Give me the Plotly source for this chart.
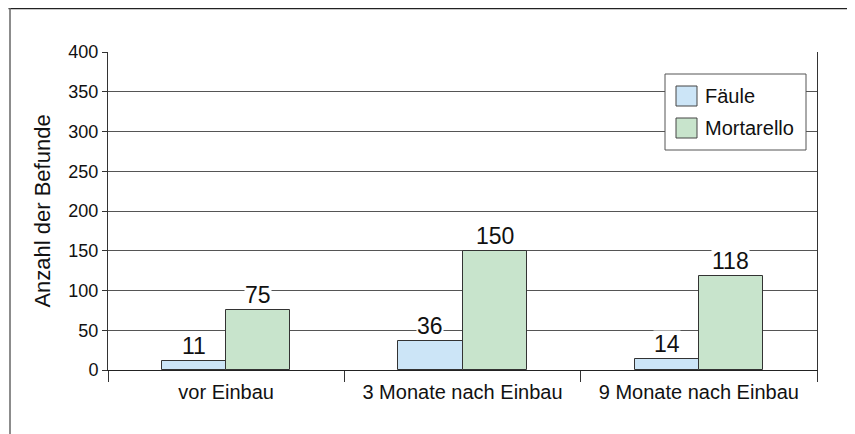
import plotly.graph_objects as go

categories = ["vor Einbau", "3 Monate nach Einbau", "9 Monate nach Einbau"]
faeule = [11, 36, 14]
mortarello = [75, 150, 118]
series_names = ["Fäule", "Mortarello"]
y_ticks = [0, 50, 100, 150, 200, 250, 300, 350, 400]

# page shows the figure offset by the browser's 8px body margin
OFF = 8
W, H = 855 - OFF, 434 - OFF
# target positions in screenshot pixels
PL, PR, PT, PB = 108, 817, 52, 370
L, T = PL - OFF, PT - OFF
R, B = W - (PR - OFF), H - (PB - OFF)
PW, PH = PR - PL, PB - PT

def px(xp):
    return (xp - PL) / PW

def py(yp):
    return (PB - yp) / PH

colors = ["#cce5f7", "#c8e4cc"]
FONT = "Liberation Sans, Arial, Helvetica, sans-serif"
bw = 0.272
xs = list(range(len(categories)))

fig = go.Figure()
for vals, name, col, off in [(faeule, series_names[0], colors[0], -bw),
                             (mortarello, series_names[1], colors[1], 0)]:
    fig.add_trace(go.Bar(x=xs, y=vals, name=name, width=bw, offset=off,
                         marker=dict(color=col, line=dict(color="#333333", width=1)),
                         showlegend=False))
    for xi, v in zip(xs, vals):
        fig.add_annotation(x=xi + off + bw / 2, y=v, text=str(v), showarrow=False,
                           yanchor="bottom", yshift=1, bgcolor="white", borderpad=0,
                           font=dict(family=FONT, size=23, color="#111"))

# legend (manual, to match the large swatches)
fig.add_shape(type="rect", xref="paper", yref="paper", x0=px(665), x1=px(806), y0=py(74), y1=py(150),
              line=dict(color="#555", width=1), fillcolor="white", layer="above")
for i, (name, col) in enumerate(zip(series_names, colors)):
    yc = 96 + i * 32
    fig.add_shape(type="rect", xref="paper", yref="paper", x0=px(676), x1=px(697),
                  y0=py(yc - 10), y1=py(yc + 10), line=dict(color="#444", width=1),
                  fillcolor=col, layer="above")
    fig.add_annotation(xref="paper", yref="paper", x=px(703), y=py(yc), text=name,
                       showarrow=False, xanchor="left", yanchor="middle",
                       font=dict(family=FONT, size=20, color="#111"))

# outer frame (top and left)
fig.add_shape(type="line", xref="paper", yref="paper", x0=px(8.5), x1=px(860), y0=py(8.6), y1=py(8.6),
              line=dict(color="#222", width=1.5))
fig.add_shape(type="line", xref="paper", yref="paper", x0=px(10), x1=px(10), y0=py(8), y1=py(440),
              line=dict(color="#666", width=1.5))

fig.update_layout(
    width=W, height=H, margin=dict(l=L, r=R, t=T, b=B),
    paper_bgcolor="white", plot_bgcolor="white",
    font=dict(family=FONT, size=18, color="#111"),
    bargap=0,
    xaxis=dict(range=[-0.5, 2.5], tickvals=xs, ticktext=categories,
               ticks="outside", ticklen=4, tickcolor="rgba(0,0,0,0)",
               tickfont=dict(size=20), showgrid=False, zeroline=False,
               showline=True, linecolor="#222", linewidth=1,
               minor=dict(tick0=-0.5, dtick=1, ticks="outside", ticklen=11,
                          tickcolor="#333", tickwidth=1, showgrid=False)),
    yaxis=dict(range=[0, 400], tickvals=y_ticks, ticks="outside", ticklen=5,
               tickcolor="#333", tickfont=dict(size=18),
               showgrid=True, gridcolor="#555", gridwidth=1, zeroline=False,
               showline=True, mirror=True, linecolor="#333", linewidth=1,
               title=dict(text="Anzahl der Befunde", font=dict(size=22), standoff=11)),
)

fig.write_html("out.html")
